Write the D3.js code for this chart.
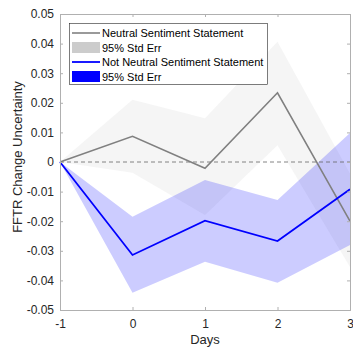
<!DOCTYPE html>
<html><head><meta charset="utf-8">
<script src="https://cdn.jsdelivr.net/npm/d3@7"></script>
<style>body{margin:0;background:#fff}svg{display:block}text{font-family:Arial,"Liberation Sans",Helvetica,sans-serif}</style>
</head><body><svg id="c" width="353" height="347"></svg>
<script>
const days = [-1, 0, 1, 2, 3];
const neutralMean = [0, 0.0087, -0.0021, 0.0234, -0.0200];
const neutralUpper = [0, 0.0210, 0.0148, 0.0406, -0.0040];
const neutralLower = [0, -0.0036, -0.0179, 0.0057, -0.0355];
const notNeutralMean = [0, -0.0314, -0.0198, -0.0267, -0.0092];
const notNeutralUpper = [0, -0.0185, -0.0061, -0.0128, 0.0098];
const notNeutralLower = [0, -0.0442, -0.0337, -0.0408, -0.0280];
const yTicks = [-0.05, -0.04, -0.03, -0.02, -0.01, 0, 0.01, 0.02, 0.03, 0.04, 0.05];
const xTicks = [-1, 0, 1, 2, 3];
const legendLabels = ["Neutral Sentiment Statement", "95% Std Err", "Not Neutral Sentiment Statement", "95% Std Err"];

const svg = d3.select("#c");
const L = 60, R = 350, T = 14, B = 310;
const x = d3.scaleLinear().domain([-1, 3]).range([L, R]);
const y = d3.scaleLinear().domain([-0.05, 0.05]).range([B, T]);
const txt = "#262626";

const area = (up, lo) => d3.area().x((d, i) => x(days[i])).y0((d, i) => y(lo[i])).y1((d, i) => y(up[i]))(days);
const line = (m) => d3.line().x((d, i) => x(days[i])).y((d, i) => y(m[i]))(days);

svg.append("path").attr("d", area(neutralUpper, neutralLower)).attr("fill", "#cccccc").attr("fill-opacity", 0.2);
svg.append("path").attr("d", area(notNeutralUpper, notNeutralLower)).attr("fill", "#0000ff").attr("fill-opacity", 0.2);
svg.append("line").attr("x1", L).attr("x2", R).attr("y1", y(0)).attr("y2", y(0))
  .attr("stroke", "#666").attr("stroke-width", 0.8).attr("stroke-dasharray", "4,3");
svg.append("path").attr("d", line(neutralMean)).attr("fill", "none").attr("stroke", "#808080").attr("stroke-width", 1.6);
svg.append("path").attr("d", line(notNeutralMean)).attr("fill", "none").attr("stroke", "#0000ff").attr("stroke-width", 1.8);

// axes
const fmt = d => d === 0 ? "0" : d3.format(".2f")(d).replace("\u2212", "-");
const gl = svg.append("g").attr("transform", `translate(${L},0)`).call(d3.axisLeft(y).tickValues(yTicks).tickSize(-3).tickPadding(6).tickFormat(fmt));
const gr = svg.append("g").attr("transform", `translate(${R},0)`).call(d3.axisRight(y).tickValues(yTicks).tickSize(-3).tickFormat(""));
const gb = svg.append("g").attr("transform", `translate(0,${B})`).call(d3.axisBottom(x).tickValues(xTicks).tickSize(-3).tickPadding(9).tickFormat(d => String(d)));
const gt = svg.append("g").attr("transform", `translate(0,${T})`).call(d3.axisTop(x).tickValues(xTicks).tickSize(-3).tickFormat(""));
[gl, gr, gb, gt].forEach(g => {
  g.select(".domain").attr("stroke", "#b0b0b0").attr("stroke-width", 1);
  g.selectAll(".tick line").attr("stroke", "#b0b0b0");
  g.selectAll("text").attr("fill", txt).attr("font-size", 12).attr("font-family", "Arial, 'Liberation Sans', sans-serif");
});

svg.append("text").attr("x", x(1)).attr("y", 344).attr("text-anchor", "middle").attr("fill", txt).attr("font-size", 13).text("Days");
svg.append("text").attr("transform", `translate(22,157) rotate(-90)`).attr("text-anchor", "middle").attr("fill", txt).attr("font-size", 13).text("FFTR Change Uncertainty");

// legend
const lg = svg.append("g");
lg.append("rect").attr("x", 69.5).attr("y", 23.5).attr("width", 198).attr("height", 61).attr("fill", "#fff").attr("stroke", "#262626").attr("stroke-width", 0.6);
const rowsY = [33, 47.5, 62, 76.5];
const kinds = [
  {type: "line", color: "#808080", w: 1.6},
  {type: "patch", color: "#cccccc"},
  {type: "line", color: "#0000ff", w: 1.8},
  {type: "patch", color: "#0000ff"}
];
legendLabels.forEach((lab, i) => {
  const k = kinds[i], yy = rowsY[i];
  if (k.type === "line") lg.append("line").attr("x1", 72).attr("x2", 100).attr("y1", yy).attr("y2", yy).attr("stroke", k.color).attr("stroke-width", k.w);
  else lg.append("rect").attr("x", 72).attr("y", yy - 5.5).attr("width", 28).attr("height", 11).attr("fill", k.color);
  lg.append("text").attr("x", 102).attr("y", yy + 4).attr("fill", "#000").attr("font-size", 11).text(lab);
});
</script></body></html>
